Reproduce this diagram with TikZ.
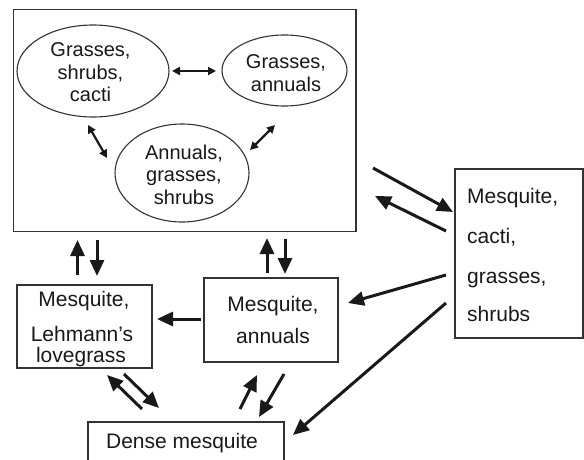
\documentclass[tikz,border=0pt]{standalone}
\usepackage{fontspec}
\setmainfont{Liberation Sans}
\usetikzlibrary{arrows.meta,shapes.geometric}
\begin{document}
\begin{tikzpicture}[x=1pt,y=-1pt,
  frame/.style={draw=black!80, line width=1.2pt, rectangle, inner sep=0pt},
  oval/.style={draw=black!80, line width=1.1pt, ellipse, inner sep=0pt},
  btxt/.style={inner sep=0pt, anchor=base, text=black!90, font=\fontsize{21}{25}\selectfont},
  bltxt/.style={btxt, anchor=base west},
  etxt/.style={inner sep=0pt, anchor=base, text=black!90, font=\fontsize{20}{23}\selectfont},
  bigarrow/.style={draw=black!90, line width=3pt, -{Triangle[length=16pt,width=14pt]}},
  smallarrow/.style={draw=black!90, line width=2.2pt, {Triangle[length=8pt,width=8pt]}-{Triangle[length=8pt,width=8pt]}}
]
\useasboundingbox (0,0) rectangle (584,460);
\clip (0,0) rectangle (584,460);
\fill[white] (0,0) rectangle (584,460);

% big box and ellipses
\node[frame, minimum width=342.7pt, minimum height=222.2pt] (big) at (184.7,120.4) {};
\node[oval, minimum width=152pt, minimum height=92pt] (e1) at (93,71) {};
\node[oval, minimum width=125pt, minimum height=71pt] (e2) at (284.5,70.5) {};
\node[oval, minimum width=134pt, minimum height=98pt] (e3) at (182,173) {};

\node[etxt] (e1a) at (90.5,56.7) {Grasses,};
\node[etxt] (e1b) at (90.5,79.3) {shrubs,};
\node[etxt] (e1c) at (90.5,101.7) {cacti};
\node[etxt] (e2a) at (286,68.3) {Grasses,};
\node[etxt] (e2b) at (286,91.7) {annuals};
\node[etxt] (e3a) at (184,159.3) {Annuals,};
\node[etxt] (e3b) at (184,181.8) {grasses,};
\node[etxt] (e3c) at (184,204.3) {shrubs};

% other boxes
\node[frame, minimum width=135pt, minimum height=83pt] (leh) at (84.5,326.5) {};
\node[frame, minimum width=134pt, minimum height=84pt] (ann) at (271,320) {};
\node[frame, minimum width=128pt, minimum height=169pt] (mcg) at (519,253.5) {};
\node[frame, minimum width=196pt, minimum height=60pt] (dense) at (186,452) {};

\node[btxt] (leha) at (84,306.5) {Mesquite,};
\node[btxt] (lehb) at (82,341.5) {Lehmann’s};
\node[btxt] (lehc) at (81,362.5) {lovegrass};
\node[btxt] (anna) at (273,311) {Mesquite,};
\node[btxt] (annb) at (273,343) {annuals};
\node[bltxt] (mcga) at (467,203) {Mesquite,};
\node[bltxt] (mcgb) at (467,243) {cacti,};
\node[bltxt] (mcgc) at (467,283) {grasses,};
\node[bltxt] (mcgd) at (467,321) {shrubs};
\node[btxt] (densea) at (182,448) {Dense mesquite};

% arrow end points
\coordinate (s1a) at (172,71);   \coordinate (s1b) at (216,71);
\coordinate (s2a) at (88,125);   \coordinate (s2b) at (107,158);
\coordinate (s3a) at (275,125);  \coordinate (s3b) at (250,150);

\coordinate (r1a) at (373,168);  \coordinate (r1b) at (453,212);
\coordinate (r2a) at (446,231);  \coordinate (r2b) at (375,196);
\coordinate (v1a) at (77.5,275); \coordinate (v1b) at (77.5,240);
\coordinate (v2a) at (97,240);   \coordinate (v2b) at (97,276);
\coordinate (v3a) at (267,273);  \coordinate (v3b) at (267,238);
\coordinate (v4a) at (285,239);  \coordinate (v4b) at (285,274);
\coordinate (h1a) at (201,319);  \coordinate (h1b) at (157,319);
\coordinate (m1a) at (446,275);  \coordinate (m1b) at (348,303);
\coordinate (m2a) at (446,303);  \coordinate (m2b) at (293,435);
\coordinate (d1a) at (142,409);  \coordinate (d1b) at (107,375);
\coordinate (d2a) at (124,374);  \coordinate (d2b) at (159,408);
\coordinate (d3a) at (240,409);  \coordinate (d3b) at (257,375);
\coordinate (d4a) at (284,374);  \coordinate (d4b) at (259,417);

\draw[smallarrow] (s1a) -- (s1b);
\draw[smallarrow] (s2a) -- (s2b);
\draw[smallarrow] (s3a) -- (s3b);

\foreach \p in {r1,r2,v1,v2,v3,v4,h1,m1,m2,d1,d2,d3,d4}
  \draw[bigarrow] (\p a) -- (\p b);
\end{tikzpicture}
\end{document}
